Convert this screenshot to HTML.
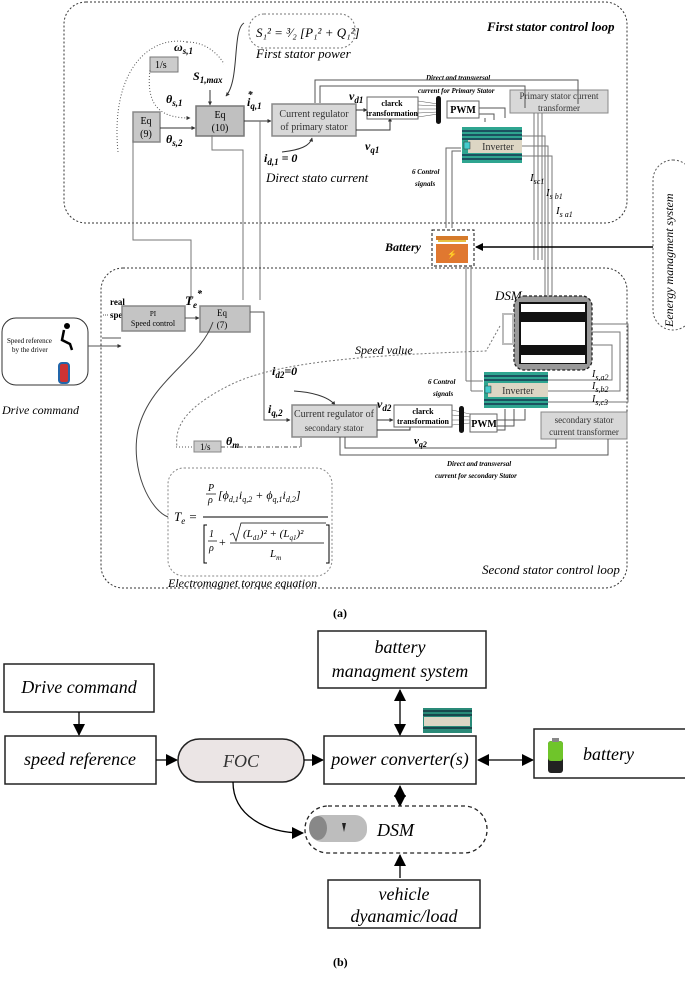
<!DOCTYPE html>
<html><head><meta charset="utf-8"><style>
html,body{margin:0;padding:0;background:#fff;}
svg{display:block;font-family:"Liberation Serif",serif;}
.i{font-style:italic}
.b{font-weight:bold}
</style></head><body>
<svg width="685" height="991" viewBox="0 0 685 991" xmlns="http://www.w3.org/2000/svg">
<defs>
<marker id="a" markerWidth="8" markerHeight="8" refX="7" refY="4" orient="auto" markerUnits="userSpaceOnUse"><path d="M0,0 L8,4 L0,8 z" fill="#000"/></marker>
<marker id="as" markerWidth="4" markerHeight="4" refX="3.5" refY="2" orient="auto" markerUnits="userSpaceOnUse"><path d="M0,0 L4,2 L0,4 z" fill="#333"/></marker>
<marker id="ab" markerWidth="12" markerHeight="12" refX="11" refY="6" orient="auto" markerUnits="userSpaceOnUse"><path d="M0,0 L12,6 L0,12 z" fill="#000"/></marker>
<marker id="abs" markerWidth="12" markerHeight="12" refX="1" refY="6" orient="auto" markerUnits="userSpaceOnUse"><path d="M12,0 L0,6 L12,12 z" fill="#000"/></marker>
</defs>

<!-- ====== (a) top loop ====== -->
<rect x="64" y="2" width="563" height="221" rx="22" fill="none" stroke="#333" stroke-dasharray="2,2"/>
<text x="487" y="31" class="i b" font-size="13">First stator control loop</text>

<rect x="249" y="14" width="106" height="34" rx="15" fill="none" stroke="#777" stroke-dasharray="2,2"/>
<text x="256" y="37" class="i" font-size="13">S₁² = ³⁄₂ [P₁² + Q₁²]</text>
<text x="256" y="58" class="i" font-size="13">First stator power</text>

<text x="174" y="51" class="i b" font-size="12">ω<tspan font-size="9" dy="3">s,1</tspan></text>
<rect x="150" y="57" width="28" height="15" fill="#ccc" stroke="#777"/>
<text x="155" y="68" font-size="10">1/s</text>
<path d="M187,42 C150,35 110,70 118,152" fill="none" stroke="#555" stroke-dasharray="1,2"/>
<path d="M187,42 C210,42 222,60 224,64" fill="none" stroke="#555" stroke-dasharray="1,2"/>
<path d="M150,70 C145,110 165,118 190,118" fill="none" stroke="#555" stroke-dasharray="1,2" marker-end="url(#as)"/>
<text x="193" y="80" class="i b" font-size="12">S<tspan font-size="9" dy="3">1,max</tspan></text>
<path d="M244,23 C232,30 240,80 226,96" fill="none" stroke="#333" marker-end="url(#as)"/>
<text x="166" y="103" class="i b" font-size="12">θ<tspan font-size="9" dy="3">s,1</tspan></text>
<text x="166" y="143" class="i b" font-size="12">θ<tspan font-size="9" dy="3">s,2</tspan></text>

<rect x="133" y="112" width="27" height="30" fill="#c8c8c8" stroke="#888" stroke-width="1.5"/>
<text x="146" y="124" font-size="10" text-anchor="middle">Eq</text>
<text x="146" y="137" font-size="10" text-anchor="middle">(9)</text>
<line x1="160" y1="128" x2="195" y2="128" stroke="#333" marker-end="url(#as)"/>
<rect x="196" y="106" width="48" height="30" fill="#c0c0c0" stroke="#777" stroke-width="1.5"/>
<text x="220" y="118" font-size="10" text-anchor="middle">Eq</text>
<text x="220" y="131" font-size="10" text-anchor="middle">(10)</text>
<line x1="210" y1="90" x2="210" y2="105" stroke="#333" marker-end="url(#as)"/>
<text x="247" y="106" class="i b" font-size="12">i<tspan font-size="9" dy="3">q,1</tspan><tspan font-size="10" dy="-11" dx="-14">*</tspan></text>
<line x1="244" y1="121" x2="271" y2="121" stroke="#333" marker-end="url(#as)"/>
<rect x="272" y="104" width="84" height="32" fill="#d8d8d8" stroke="#888" stroke-width="1.5"/>
<text x="314" y="117" font-size="10" text-anchor="middle" fill="#333">Current regulator</text>
<text x="314" y="130" font-size="10" text-anchor="middle" fill="#333">of primary stator</text>
<text x="264" y="162" class="i b" font-size="12">i<tspan font-size="9" dy="3">d,1</tspan><tspan dy="-3"> = 0</tspan></text>
<path d="M282,152 C300,150 310,146 312,138" fill="none" stroke="#333" marker-end="url(#as)"/>
<text x="266" y="182" class="i" font-size="13">Direct stato current</text>

<text x="349" y="100" class="i b" font-size="12">v<tspan font-size="9" dy="3">d1</tspan></text>
<text x="365" y="150" class="i b" font-size="12">v<tspan font-size="9" dy="3">q1</tspan></text>
<line x1="356" y1="110" x2="367" y2="110" stroke="#333" marker-end="url(#as)"/>
<polyline points="356,130 390,130 390,118" fill="none" stroke="#333" marker-end="url(#as)"/>
<rect x="367" y="97" width="51" height="22" fill="#fff" stroke="#666"/>
<text x="392" y="106" font-size="8" text-anchor="middle" class="b">clarck</text>
<text x="392" y="116" font-size="8" text-anchor="middle" class="b">transformation</text>
<g stroke="#555" stroke-width="0.5"><line x1="418" y1="101" x2="438" y2="104"/><line x1="418" y1="105" x2="438" y2="106"/><line x1="418" y1="109" x2="438" y2="109"/><line x1="418" y1="113" x2="438" y2="112"/><line x1="418" y1="117" x2="438" y2="114"/></g>
<rect x="436" y="96" width="5" height="28" rx="2.5" fill="#111"/>
<text x="412" y="174" class="i b" font-size="7">6 Control</text>
<text x="415" y="186" class="i b" font-size="7">signals</text>
<rect x="447" y="101" width="32" height="17" fill="#fff" stroke="#666"/>
<text x="463" y="113" font-size="10" text-anchor="middle" class="b">PWM</text>
<polyline points="479,108 505,108 505,118" fill="none" stroke="#555"/>
<polyline points="479,114 494,114 494,120" fill="none" stroke="#555"/>
<polyline points="485,118 485,122" fill="none" stroke="#555"/>
<rect x="462" y="127" width="60" height="36" fill="#2fa590"/>
<g stroke="#124" stroke-width="1.3"><line x1="462" y1="131" x2="522" y2="131"/><line x1="462" y1="135" x2="522" y2="135"/><line x1="462" y1="139" x2="522" y2="139"/><line x1="462" y1="155" x2="522" y2="155"/><line x1="462" y1="159" x2="522" y2="159"/></g>
<rect x="468" y="140" width="54" height="13" fill="#ddd6c4"/>
<rect x="464" y="142" width="6" height="7" fill="#4cc" stroke="#333" stroke-width="0.5"/>
<text x="498" y="150" font-size="10" text-anchor="middle" fill="#333">Inverter</text>

<rect x="510" y="90" width="98" height="23" fill="#d8d8d8" stroke="#888"/>
<text x="559" y="99" font-size="9" text-anchor="middle" fill="#333">Primary stator current</text>
<text x="559" y="111" font-size="9" text-anchor="middle" fill="#333">transformer</text>
<text x="426" y="80" class="i b" font-size="7">Direct and transversal</text>
<text x="418" y="93" class="i b" font-size="7">current  for Primary Stator</text>
<polyline points="578,104 578,102 578,80 315,80 315,103" fill="none" stroke="#555"/>
<polyline points="525,108 525,86 320,86 320,103" fill="none" stroke="#555"/>
<g stroke="#777" fill="none"><line x1="534" y1="113" x2="534" y2="260"/><line x1="538" y1="113" x2="538" y2="260"/><line x1="542" y1="113" x2="542" y2="260"/>
<polyline points="522,136 545,136 545,296"/><polyline points="522,146 548,146 548,296"/><polyline points="522,156 552,156 552,296"/></g>
<text x="530" y="181" class="i" font-size="11">I<tspan font-size="8" dy="3">sc1</tspan></text>
<text x="546" y="196" class="i" font-size="11">I<tspan font-size="8" dy="3">s b1</tspan></text>
<text x="556" y="214" class="i" font-size="11">I<tspan font-size="8" dy="3">s a1</tspan></text>
<g stroke="#666" fill="none"><polyline points="446,228 446,148 461,148"/><polyline points="452,228 452,151 461,151"/></g>

<!-- lines between loops -->
<g stroke="#777" fill="none">
<polyline points="133,140 133,240 191,240 191,300"/>
<polyline points="212,135 212,150 243,150 243,300"/>
<line x1="260" y1="121" x2="260" y2="300"/>
</g>

<!-- Battery -->
<text x="385" y="251" class="i b" font-size="12">Battery</text>
<rect x="432" y="230" width="42" height="36" fill="none" stroke="#111" stroke-dasharray="3,2"/>
<rect x="436" y="236" width="32" height="4" fill="#d57a2a"/><rect x="438" y="240" width="28" height="2" fill="#e8c040"/>
<rect x="436" y="244" width="32" height="19" fill="#e07830"/>
<text x="452" y="257" font-size="8" text-anchor="middle">⚡</text>
<line x1="653" y1="247" x2="476" y2="247" stroke="#000" stroke-width="1.5" marker-end="url(#a)"/>
<rect x="653" y="160" width="40" height="170" rx="20" fill="#fff" stroke="#555" stroke-dasharray="2,2"/>
<text transform="translate(673,327) rotate(-90)" class="i" font-size="12">Eenergy managment system</text>

<!-- ====== bottom loop ====== -->
<rect x="101" y="268" width="526" height="320" rx="22" fill="none" stroke="#333" stroke-dasharray="2,2"/>
<g stroke="#777" fill="none"><line x1="466" y1="266" x2="466" y2="381"/><line x1="471" y1="266" x2="471" y2="391"/>
<polyline points="466,381 483,381"/><polyline points="471,391 483,391"/></g>
<text x="495" y="300" class="i" font-size="13">DSM</text>
<rect x="514" y="296" width="78" height="74" rx="10" fill="#999" stroke="#222" stroke-dasharray="3,2" stroke-width="1.3"/>
<rect x="519" y="302" width="68" height="62" fill="#111"/>
<rect x="521" y="304" width="64" height="8" fill="#fff"/>
<rect x="521" y="322" width="64" height="23" fill="#fff"/>
<rect x="521" y="355" width="64" height="8" fill="#fff"/>
<rect x="503" y="314" width="10" height="30" fill="none" stroke="#bbb" stroke-width="2"/>
<text x="110" y="305" class="b" font-size="9">real</text>
<text x="110" y="318" class="b" font-size="9">speed</text>
<line x1="103" y1="315" x2="108" y2="315" stroke="#555" stroke-dasharray="1,1"/>
<text x="185" y="305" class="i b" font-size="13">T<tspan font-size="9" dy="3">e</tspan><tspan font-size="10" dy="-11">*</tspan></text>

<rect x="2" y="318" width="86" height="67" rx="14" fill="#fff" stroke="#333"/>
<text x="7" y="343" font-size="7">Speed reference</text>
<text x="12" y="352" font-size="7">by the driver</text>
<circle cx="67" cy="326" r="3" fill="#000"/><path d="M64,330 L62,340 L70,344 L72,350" fill="none" stroke="#000" stroke-width="2.5"/>
<rect x="59" y="363" width="10" height="20" rx="3" fill="#c33" stroke="#26a" stroke-width="2"/>
<text x="2" y="414" class="i" font-size="12">Drive command</text>
<line x1="88" y1="346" x2="121" y2="346" stroke="#555" marker-end="url(#as)"/>
<line x1="102" y1="338" x2="121" y2="338" stroke="#555"/>
<rect x="122" y="306" width="63" height="25" fill="#c4c4c4" stroke="#888" stroke-width="1.5"/>
<text x="153" y="316" font-size="7" text-anchor="middle">PI</text>
<text x="153" y="326" font-size="8" text-anchor="middle">Speed control</text>
<line x1="185" y1="318" x2="199" y2="318" stroke="#555" marker-end="url(#as)"/>
<rect x="200" y="306" width="50" height="26" fill="#c4c4c4" stroke="#888" stroke-width="1.5"/>
<text x="222" y="316" font-size="9" text-anchor="middle">Eq</text>
<text x="222" y="328" font-size="9" text-anchor="middle">(7)</text>
<polyline points="250,312 264,312 264,420 290,420" fill="none" stroke="#555" marker-end="url(#as)"/>
<text x="355" y="354" class="i" font-size="12">Speed value</text>
<path d="M500,326 L486,351 C380,355 280,360 230,385 C180,410 175,430 177,447" fill="none" stroke="#777" stroke-dasharray="2,2"/>
<text x="272" y="375" class="i b" font-size="12">i<tspan font-size="9" dy="3">d2</tspan><tspan dy="-3">=0</tspan></text>
<path d="M294,391 C310,392 328,396 335,405" fill="none" stroke="#333" marker-end="url(#as)"/>
<text x="268" y="413" class="i b" font-size="12">i<tspan font-size="9" dy="3">q,2</tspan></text>
<rect x="292" y="405" width="85" height="32" fill="#d8d8d8" stroke="#888" stroke-width="1.5"/>
<text x="334" y="417" font-size="10" text-anchor="middle" fill="#333">Current regulator of</text>
<text x="334" y="431" font-size="9" text-anchor="middle" fill="#333">secondary stator</text>
<text x="377" y="408" class="i b" font-size="12">v<tspan font-size="9" dy="3">d2</tspan></text>
<text x="414" y="444" class="i b" font-size="11">v<tspan font-size="8" dy="3">q2</tspan></text>
<line x1="377" y1="420" x2="393" y2="420" stroke="#333" marker-end="url(#as)"/>
<polyline points="377,430 410,430 410,426" fill="none" stroke="#333"/>
<rect x="394" y="405" width="58" height="22" fill="#fff" stroke="#666"/>
<text x="423" y="414" font-size="8" text-anchor="middle" class="b">clarck</text>
<text x="423" y="424" font-size="8" text-anchor="middle" class="b">transformation</text>
<text x="428" y="384" class="i b" font-size="7">6 Control</text>
<text x="433" y="396" class="i b" font-size="7">signals</text>
<g stroke="#555" stroke-width="0.5"><line x1="452" y1="410" x2="470" y2="414"/><line x1="452" y1="415" x2="470" y2="417"/><line x1="452" y1="420" x2="470" y2="420"/><line x1="452" y1="425" x2="470" y2="423"/></g>
<rect x="459" y="406" width="5" height="27" rx="2.5" fill="#111"/>
<rect x="470" y="414" width="27" height="18" fill="#fff" stroke="#666"/>
<text x="484" y="427" font-size="10" text-anchor="middle" class="b">PWM</text>
<polyline points="497,420 525,420 525,409" fill="none" stroke="#555"/>
<polyline points="497,426 514,426 514,409" fill="none" stroke="#555"/>
<polyline points="497,430 505,430 505,409" fill="none" stroke="#555"/>
<rect x="484" y="372" width="64" height="36" fill="#2fa590"/>
<g stroke="#124" stroke-width="1.3"><line x1="484" y1="376" x2="548" y2="376"/><line x1="484" y1="380" x2="548" y2="380"/><line x1="484" y1="400" x2="548" y2="400"/><line x1="484" y1="404" x2="548" y2="404"/></g>
<rect x="488" y="383" width="60" height="14" fill="#ddd6c4"/>
<rect x="485" y="386" width="6" height="7" fill="#4cc" stroke="#333" stroke-width="0.5"/>
<text x="518" y="394" font-size="10" text-anchor="middle" fill="#333">Inverter</text>
<g stroke="#777" fill="none">
<polyline points="548,380 612,380 612,345 592,345"/>
<polyline points="548,391 620,391 620,332 592,332"/>
<polyline points="548,402 628,402 628,324 592,324"/>
</g>
<text x="592" y="377" class="i" font-size="10">I<tspan font-size="8" dy="3">s,a2</tspan></text>
<text x="592" y="389" class="i" font-size="10">I<tspan font-size="8" dy="3">s,b2</tspan></text>
<text x="592" y="402" class="i" font-size="10">I<tspan font-size="8" dy="3">s,c3</tspan></text>
<rect x="541" y="412" width="86" height="27" fill="#d8d8d8" stroke="#888"/>
<text x="584" y="423" font-size="9" text-anchor="middle" fill="#333">secondary stator</text>
<text x="584" y="435" font-size="9" text-anchor="middle" fill="#333">current transformer</text>
<polyline points="556,439 556,448 345,448 345,437" fill="none" stroke="#555"/>
<polyline points="608,439 608,455 340,455 340,437" fill="none" stroke="#555"/>
<text x="447" y="466" class="i b" font-size="7">Direct and transversal</text>
<text x="435" y="478" class="i b" font-size="7">current  for secondary Stator</text>
<rect x="194" y="441" width="27" height="11" fill="#ccc" stroke="#888"/>
<text x="200" y="450" font-size="9">1/s</text>
<text x="226" y="445" class="i b" font-size="12">θ<tspan font-size="9" dy="3">m</tspan></text>
<line x1="221" y1="447" x2="300" y2="447" stroke="#555" stroke-dasharray="4,2,1,2"/>
<line x1="176" y1="447" x2="194" y2="447" stroke="#555" stroke-dasharray="1,2"/>
<line x1="301" y1="447" x2="301" y2="438" stroke="#555"/>
<path d="M213,322 C200,360 150,380 138,430 C130,470 150,510 168,517" fill="none" stroke="#444"/>

<rect x="168" y="468" width="164" height="108" rx="16" fill="none" stroke="#888" stroke-dasharray="2,2"/>
<text x="174" y="521" class="i" font-size="13">T<tspan font-size="9" dy="3">e</tspan><tspan dy="-3"> =</tspan></text>
<text x="208" y="491" class="i" font-size="10">P</text>
<line x1="206" y1="494" x2="216" y2="494" stroke="#000" stroke-width="0.7"/>
<text x="208" y="503" class="i" font-size="10">ρ</text>
<text x="218" y="499" class="i" font-size="12">[ϕ<tspan font-size="8" dy="3">d,1</tspan><tspan dy="-3">i</tspan><tspan font-size="8" dy="3">q,2</tspan><tspan dy="-3"> + ϕ</tspan><tspan font-size="8" dy="3">q,1</tspan><tspan dy="-3">i</tspan><tspan font-size="8" dy="3">d,2</tspan><tspan dy="-3">]</tspan></text>
<line x1="203" y1="517" x2="328" y2="517" stroke="#000" stroke-width="1"/>
<path d="M207,525 L204,525 L204,563 L207,563 M326,525 L329,525 L329,563 L326,563" fill="none" stroke="#000"/>
<text x="209" y="537" class="i" font-size="10">1</text>
<line x1="208" y1="541" x2="217" y2="541" stroke="#000" stroke-width="0.7"/>
<text x="209" y="551" class="i" font-size="10">ρ</text>
<text x="219" y="546" font-size="12">+</text>
<path d="M230,535 L233,533 L236,541 L241,523 L326,523" fill="none" stroke="#000" stroke-width="0.7"/>
<text x="243" y="537" class="i" font-size="11">(L<tspan font-size="7" dy="3">d1</tspan><tspan dy="-3">)² + (L</tspan><tspan font-size="7" dy="3">q1</tspan><tspan dy="-3">)²</tspan></text>
<line x1="230" y1="543" x2="324" y2="543" stroke="#000" stroke-width="0.7"/>
<text x="270" y="557" class="i" font-size="11">L<tspan font-size="7" dy="3">m</tspan></text>
<text x="168" y="587" class="i" font-size="12">Electromagnet torque equation</text>
<text x="482" y="574" class="i" font-size="13">Second stator control loop</text>
<text x="333" y="617" class="b" font-size="12">(a)</text>

<!-- ====== (b) ====== -->
<g font-size="18" class="i" stroke-width="1.5">
<rect x="318" y="631" width="168" height="57" fill="#fff" stroke="#222" stroke-width="1.5"/>
<text x="400" y="653" text-anchor="middle" class="i" font-size="18">battery</text>
<text x="400" y="677" text-anchor="middle" class="i" font-size="18">managment system</text>
<rect x="4" y="664" width="150" height="48" fill="#fff" stroke="#222" stroke-width="1.5"/>
<text x="79" y="693" text-anchor="middle" class="i" font-size="18">Drive command</text>
<line x1="79" y1="712" x2="79" y2="735" stroke="#000" stroke-width="1.3" marker-end="url(#ab)"/>
<rect x="5" y="736" width="151" height="48" fill="#fff" stroke="#222" stroke-width="1.5"/>
<text x="80" y="765" text-anchor="middle" class="i" font-size="18">speed reference</text>
<line x1="156" y1="760" x2="177" y2="760" stroke="#000" stroke-width="1.3" marker-end="url(#ab)"/>
<rect x="178" y="739" width="126" height="43" rx="21.5" fill="#ebe5e5" stroke="#222" stroke-width="1.5"/>
<text x="241" y="767" text-anchor="middle" class="i" font-size="18" fill="#333">FOC</text>
<line x1="304" y1="760" x2="323" y2="760" stroke="#000" stroke-width="1.3" marker-end="url(#ab)"/>
<rect x="324" y="736" width="152" height="48" fill="#fff" stroke="#222" stroke-width="1.5"/>
<text x="400" y="765" text-anchor="middle" class="i" font-size="18">power converter(s)</text>
<line x1="400" y1="690" x2="400" y2="735" stroke="#000" stroke-width="1.3" marker-start="url(#abs)" marker-end="url(#ab)"/>
<rect x="423" y="708" width="49" height="25" fill="#2a8a78"/>
<g stroke="#123" stroke-width="1.3"><line x1="423" y1="711" x2="472" y2="711"/><line x1="423" y1="715" x2="472" y2="715"/><line x1="423" y1="728" x2="472" y2="728"/></g>
<rect x="424" y="717" width="46" height="9" fill="#ddd6c4"/>
<line x1="478" y1="760" x2="533" y2="760" stroke="#000" stroke-width="1.3" marker-start="url(#abs)" marker-end="url(#ab)"/>
<rect x="534" y="729" width="160" height="49" fill="#fff" stroke="#222" stroke-width="1.5"/>
<rect x="548" y="741" width="15" height="32" rx="3" fill="#222"/>
<rect x="548" y="741" width="15" height="20" rx="3" fill="#6fc52a"/>
<rect x="552" y="738" width="7" height="4" fill="#888"/>
<text x="583" y="760" class="i" font-size="18">battery</text>
<line x1="400" y1="786" x2="400" y2="806" stroke="#000" stroke-width="1.3" marker-start="url(#abs)" marker-end="url(#ab)"/>
<rect x="305" y="806" width="182" height="47" rx="23" fill="none" stroke="#222" stroke-dasharray="4,3" stroke-width="1.3"/>
<rect x="310" y="815" width="57" height="27" rx="12" fill="#bdbdbd"/>
<ellipse cx="318" cy="828" rx="9" ry="12" fill="#888"/>
<path d="M342,823 L346,823 L344,832 Z" fill="#222"/>
<text x="377" y="836" class="i" font-size="18">DSM</text>
<path d="M233,782 C233,815 265,833 303,833" fill="none" stroke="#000" stroke-width="1.3" marker-end="url(#ab)"/>
<line x1="400" y1="878" x2="400" y2="855" stroke="#000" stroke-width="1.3" marker-end="url(#ab)"/>
<rect x="328" y="880" width="152" height="48" fill="#fff" stroke="#222" stroke-width="1.5"/>
<text x="404" y="900" text-anchor="middle" class="i" font-size="18">vehicle</text>
<text x="404" y="922" text-anchor="middle" class="i" font-size="18">dyanamic/load</text>
</g>
<text x="333" y="966" class="b" font-size="12">(b)</text>
</svg>
</body></html>
